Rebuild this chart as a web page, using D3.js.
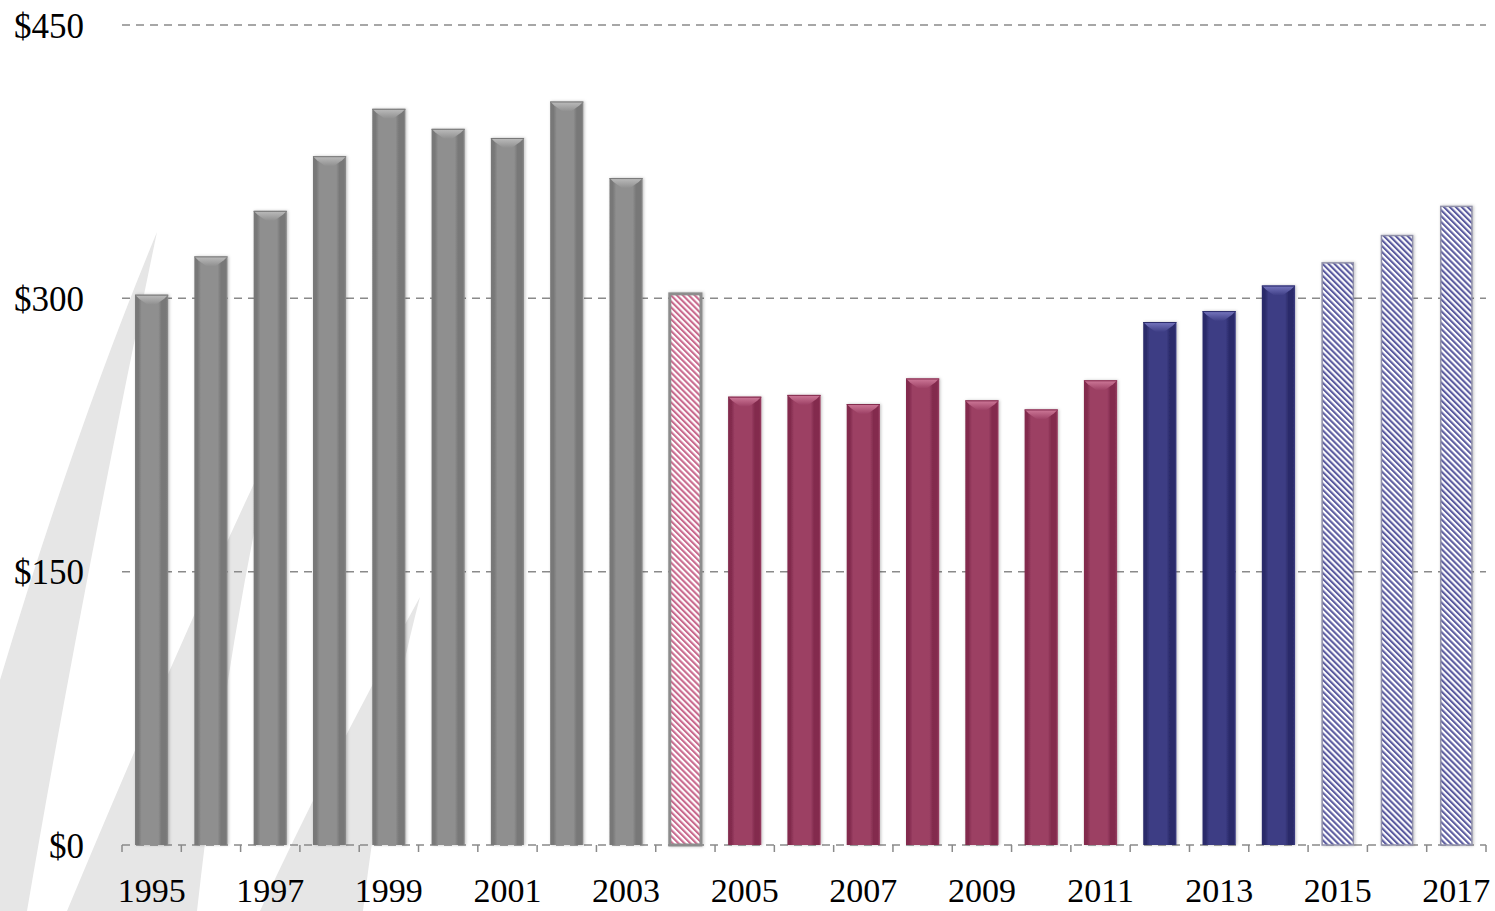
<!DOCTYPE html>
<html lang="en">
<head>
    <meta charset="UTF-8">
    <title>Annual values 1995-2017</title>
    <style>
        body { margin: 0; background: #fff; }
        text { font-family: "Palatino Linotype", "Book Antiqua", Palatino, "Liberation Serif", serif; fill: #000; }
    </style>
</head>
<body>
    <div id="graph"></div>
    <script src="https://d3js.org/d3.v7.min.js"></script>
    <script>
        // datos
        const YEARS = d3.range(1995, 2018).map(String);
        const VALUES = [302, 323, 348, 378, 404, 393, 388, 408, 366,
                        303,
                        246, 247, 242, 256, 244, 239, 255,
                        287, 293, 307,
                        320, 335, 351];
        // tipo de barra por año
        const KINDS = ["gray", "gray", "gray", "gray", "gray", "gray", "gray", "gray", "gray",
                       "pinkHatch",
                       "pink", "pink", "pink", "pink", "pink", "pink", "pink",
                       "navy", "navy", "navy",
                       "navyHatch", "navyHatch", "navyHatch"];
        const Y_TICKS = [0, 150, 300, 450];
        const X_LABELS = YEARS.filter((d, i) => i % 2 === 0);

        const WIDTH = 1495, HEIGHT = 911;
        const LEFT = 122, RIGHT = 1486, TOP = 25, BOTTOM = 845;

        const x = d3.scaleBand()
            .domain(YEARS)
            .range([LEFT, RIGHT])
            .paddingInner(0.44)
            .paddingOuter(0.22);

        const y = d3.scaleLinear()
            .domain([0, 450])
            .range([BOTTOM, TOP]);

        const svg = d3.select("#graph")
            .append("svg")
            .attr("width", WIDTH)
            .attr("height", HEIGHT);

        const defs = svg.append("defs");

        // colores de cada tipo
        const STYLE = {
            gray: { edge: "#787878", body: "#8f8f8f", light: "#bdbdbd" },
            pink: { edge: "#832c4e", body: "#9c4064", light: "#cf7a9a" },
            navy: { edge: "#2b2b6a", body: "#3d3d84", light: "#7878c0" }
        };

        Object.entries(STYLE).forEach(([k, c]) => {
            const g = defs.append("linearGradient").attr("id", "grad-" + k)
                .attr("x1", "0").attr("x2", "1").attr("y1", "0").attr("y2", "0");
            [[0, c.edge], [0.1, c.edge], [0.2, c.body], [0.7, c.body], [0.8, c.edge], [0.94, c.edge], [1, c.body]]
                .forEach(([o, col]) => g.append("stop").attr("offset", o).attr("stop-color", col));
            const t = defs.append("linearGradient").attr("id", "top-" + k)
                .attr("x1", "0").attr("x2", "0").attr("y1", "0").attr("y2", "1");
            t.append("stop").attr("offset", 0).attr("stop-color", c.light);
            t.append("stop").attr("offset", 1).attr("stop-color", c.body);
        });

        // rayado
        const hatch = (id, col) => {
            const p = defs.append("pattern").attr("id", id)
                .attr("patternUnits", "userSpaceOnUse")
                .attr("width", 4.2).attr("height", 4.2)
                .attr("patternTransform", "rotate(-45)");
            p.append("rect").attr("width", 4.2).attr("height", 4.2).attr("fill", "#fff");
            p.append("rect").attr("width", 2.1).attr("height", 4.2).attr("fill", col);
        };
        hatch("hatch-pink", "#c96a8e");
        hatch("hatch-navy", "#5c5ca0");

        const shadow = defs.append("filter").attr("id", "shadow")
            .attr("x", "-20%").attr("y", "-5%").attr("width", "140%").attr("height", "110%");
        shadow.append("feDropShadow").attr("dx", 1).attr("dy", 0).attr("stdDeviation", 1.5)
            .attr("flood-color", "#000").attr("flood-opacity", 0.25);

        // fondo: formas grises claras a la izquierda
        const WEDGES = [
            "M157,232 Q75,430 0,680 L0,911 L27,911 Q80,600 157,232 Z",
            "M272,445 Q180,640 67,911 L197,911 Q225,660 272,445 Z",
            "M420,597 Q330,760 260,911 L363,911 Q385,730 420,597 Z"
        ];
        svg.append("g").selectAll("path")
            .data(WEDGES)
            .join("path")
            .attr("d", d => d)
            .attr("fill", "#e6e6e6");

        // líneas de la cuadrícula
        svg.append("g")
            .selectAll("line")
            .data(Y_TICKS)
            .join("line")
            .attr("x1", LEFT).attr("x2", RIGHT)
            .attr("y1", d => y(d)).attr("y2", d => y(d))
            .attr("stroke", "#8a8a8a")
            .attr("stroke-width", 1.5)
            .attr("stroke-dasharray", "8,6");

        // marcas del eje x en los límites de cada categoría
        const boundaries = d3.range(YEARS.length + 1).map(i => LEFT + i * x.step());
        svg.append("g")
            .selectAll("line")
            .data(boundaries)
            .join("line")
            .attr("x1", d => d).attr("x2", d => d)
            .attr("y1", BOTTOM).attr("y2", BOTTOM + 7)
            .attr("stroke", "#8a8a8a")
            .attr("stroke-width", 1.5);

        // etiquetas eje y
        svg.append("g")
            .selectAll("text")
            .data(Y_TICKS)
            .join("text")
            .attr("x", 84)
            .attr("y", d => y(d))
            .attr("dy", "0.36em")
            .attr("text-anchor", "end")
            .attr("font-size", 35)
            .text(d => "$" + d);

        // etiquetas eje x
        svg.append("g")
            .selectAll("text")
            .data(X_LABELS)
            .join("text")
            .attr("x", d => x(d) + x.bandwidth() / 2)
            .attr("y", 902)
            .attr("text-anchor", "middle")
            .attr("font-size", 34)
            .text(d => d);

        // barras
        const bars = svg.append("g")
            .selectAll("g")
            .data(YEARS.map((yr, i) => ({ yr, v: VALUES[i], kind: KINDS[i] })))
            .join("g");

        bars.filter(d => !d.kind.endsWith("Hatch"))
            .each(function (d) {
                const g = d3.select(this);
                const x0 = x(d.yr), w = x.bandwidth(), top = y(d.v);
                g.append("rect")
                    .attr("x", x0).attr("y", top)
                    .attr("width", w).attr("height", BOTTOM - top)
                    .attr("fill", `url(#grad-${d.kind})`)
                    .attr("filter", "url(#shadow)");
                // bisel superior
                g.append("path")
                    .attr("d", `M${x0},${top} L${x0 + w},${top} L${x0 + w - 4},${top + 4} L${x0 + w / 2 + 4},${top + 10} L${x0 + w / 2 - 4},${top + 10} L${x0 + 4},${top + 4} Z`)
                    .attr("fill", `url(#top-${d.kind})`);
                g.append("line")
                    .attr("x1", x0).attr("x2", x0 + w)
                    .attr("y1", top + 0.5).attr("y2", top + 0.5)
                    .attr("stroke", STYLE[d.kind].edge).attr("stroke-width", 1);
            });

        bars.filter(d => d.kind.endsWith("Hatch"))
            .each(function (d) {
                const g = d3.select(this);
                const x0 = x(d.yr), w = x.bandwidth(), top = y(d.v);
                const pink = d.kind === "pinkHatch";
                g.append("rect")
                    .attr("x", x0 + 1).attr("y", top + 1)
                    .attr("width", w - 2).attr("height", BOTTOM - top - 1)
                    .attr("fill", pink ? "url(#hatch-pink)" : "url(#hatch-navy)")
                    .attr("stroke", pink ? "#8c8c8c" : "#9090a8")
                    .attr("stroke-width", pink ? 3 : 1.5)
                    .attr("filter", "url(#shadow)");
            });
    </script>
</body>
</html>
